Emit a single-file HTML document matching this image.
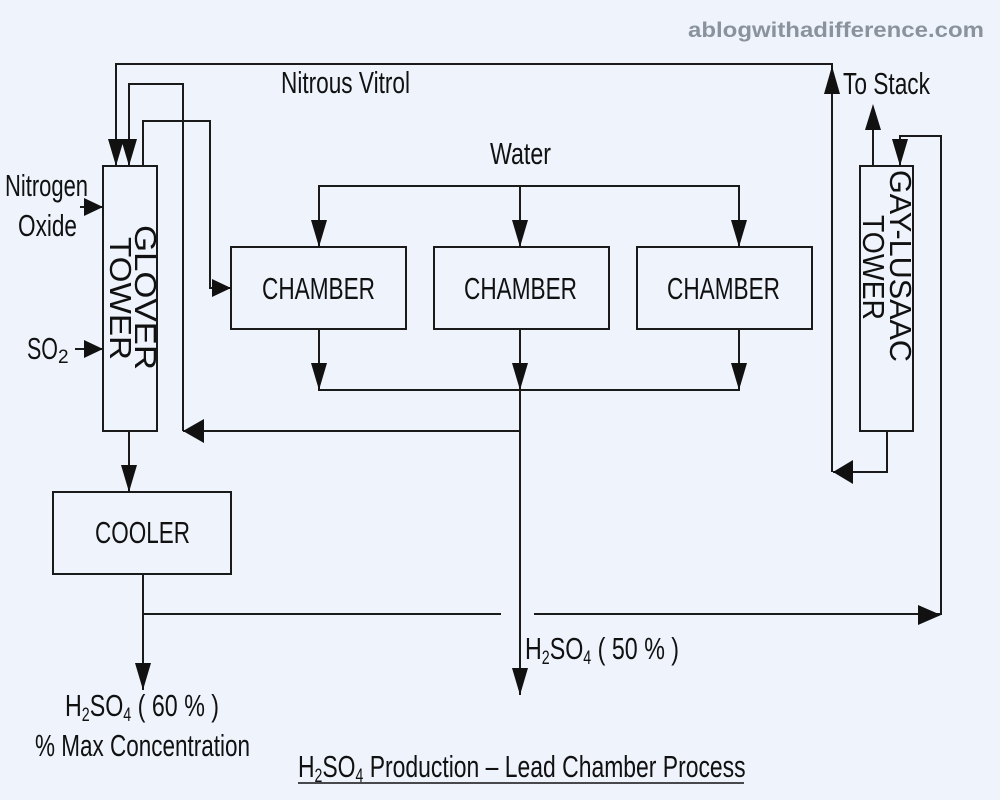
<!DOCTYPE html>
<html><head><meta charset="utf-8"><style>
html,body{margin:0;padding:0;background:#eef3fc;}
svg{display:block;}
text{font-family:"Liberation Sans",sans-serif;fill:#111;}
</style></head><body>
<svg width="1000" height="800" viewBox="0 0 1000 800">
<rect width="1000" height="800" fill="#eef3fc"/>
<text x="688" y="37" font-weight="bold" font-size="21" style="fill:#8a929c" textLength="296" lengthAdjust="spacingAndGlyphs">ablogwithadifference.com</text>
<g fill="none" stroke="#1a1a1a" stroke-width="2">
<rect x="103" y="166" width="54" height="265"/>
<polyline points="116,166 116,64 832,64 832,472"/>
<polyline points="129,166 129,84 183,84 183,431"/>
<polyline points="143,166 143,121 210,121 210,288 231,288"/>
<line x1="80" y1="207" x2="103" y2="207"/>
<line x1="75" y1="349" x2="103" y2="349"/>
<line x1="129" y1="431" x2="129" y2="492"/>
<rect x="53" y="492" width="178" height="82"/>
<line x1="143" y1="574" x2="143" y2="690"/>
<line x1="143" y1="614" x2="501" y2="614"/>
<polyline points="534,614 941,614 941,136 900,136 900,166"/>
<rect x="231" y="247" width="175" height="82"/>
<rect x="434" y="247" width="175" height="82"/>
<rect x="637" y="247" width="175" height="82"/>
<polyline points="319,247 319,186 739,186 739,247"/>
<line x1="520" y1="186" x2="520" y2="247"/>
<polyline points="319,329 319,390 739,390 739,329"/>
<line x1="520" y1="329" x2="520" y2="695"/>
<line x1="520" y1="431" x2="183" y2="431"/>
<rect x="860" y="166" width="53" height="265"/>
<polyline points="887,431 887,472 833,472"/>
<line x1="873" y1="166" x2="873" y2="120"/>
</g>
<g fill="#111">
<polygon points="108,139 124,139 116,166"/>
<polygon points="121,139 137,139 129,166"/>
<polygon points="84,198 84,216 103,207"/>
<polygon points="84,340 84,358 103,349"/>
<polygon points="212,279 212,297 231,288"/>
<polygon points="121,465 137,465 129,492"/>
<polygon points="135,663 151,663 143,690"/>
<polygon points="311,220 327,220 319,247"/>
<polygon points="512,220 528,220 520,247"/>
<polygon points="731,220 747,220 739,247"/>
<polygon points="311,363 327,363 319,390"/>
<polygon points="512,363 528,363 520,390"/>
<polygon points="731,363 747,363 739,390"/>
<polygon points="512,668 528,668 520,695"/>
<polygon points="183,431 204,419 204,443"/>
<polygon points="824,94 840,94 832,66"/>
<polygon points="865,130 881,130 873,104"/>
<polygon points="892,139 908,139 900,166"/>
<polygon points="833,472 853,460 853,484"/>
<polygon points="918,605 918,625 941,615"/>
</g>
<g font-size="31">
<text x="281" y="93" textLength="129" lengthAdjust="spacingAndGlyphs">Nitrous Vitrol</text>
<text x="490" y="164" textLength="61" lengthAdjust="spacingAndGlyphs">Water</text>
<text x="843" y="94" textLength="87" lengthAdjust="spacingAndGlyphs">To Stack</text>
<text x="5" y="196" textLength="83" lengthAdjust="spacingAndGlyphs">Nitrogen</text>
<text x="18" y="236" textLength="59" lengthAdjust="spacingAndGlyphs">Oxide</text>
<text x="27" y="359" textLength="31" lengthAdjust="spacingAndGlyphs">SO</text><text x="58" y="363" font-size="19">2</text>
<text x="262" y="299" textLength="113" lengthAdjust="spacingAndGlyphs">CHAMBER</text>
<text x="464" y="299" textLength="113" lengthAdjust="spacingAndGlyphs">CHAMBER</text>
<text x="667" y="299" textLength="113" lengthAdjust="spacingAndGlyphs">CHAMBER</text>
<text x="95" y="543" textLength="95" lengthAdjust="spacingAndGlyphs">COOLER</text>
<g transform="translate(525,659) scale(0.75,1)"><text x="0" y="0">H<tspan font-size="19" dy="5">2</tspan><tspan dy="-5">SO</tspan><tspan font-size="19" dy="5">4</tspan><tspan dy="-5"> ( 50 % )</tspan></text></g>
<g transform="translate(65,716) scale(0.75,1)"><text x="0" y="0">H<tspan font-size="19" dy="5">2</tspan><tspan dy="-5">SO</tspan><tspan font-size="19" dy="5">4</tspan><tspan dy="-5"> ( 60 % )</tspan></text></g>
<text x="35" y="756" textLength="215" lengthAdjust="spacingAndGlyphs">% Max Concentration</text>
<g transform="translate(298,777) scale(0.74,1)"><text x="0" y="0">H<tspan font-size="19" dy="5">2</tspan><tspan dy="-5">SO</tspan><tspan font-size="19" dy="5">4</tspan><tspan dy="-5"> Production – Lead Chamber Process</tspan></text></g>
<text transform="translate(135,225) rotate(90)" textLength="145" lengthAdjust="spacingAndGlyphs">GLOVER</text>
<text transform="translate(110,237) rotate(90)" textLength="123" lengthAdjust="spacingAndGlyphs">TOWER</text>
<text transform="translate(890,170) rotate(90)" textLength="192" lengthAdjust="spacingAndGlyphs">GAY-LUSAAC</text>
<text transform="translate(863,215) rotate(90)" textLength="105" lengthAdjust="spacingAndGlyphs">TOWER</text>
</g>
<line x1="298" y1="783" x2="744" y2="783" stroke="#111" stroke-width="1.5"/>
</svg>
</body></html>
